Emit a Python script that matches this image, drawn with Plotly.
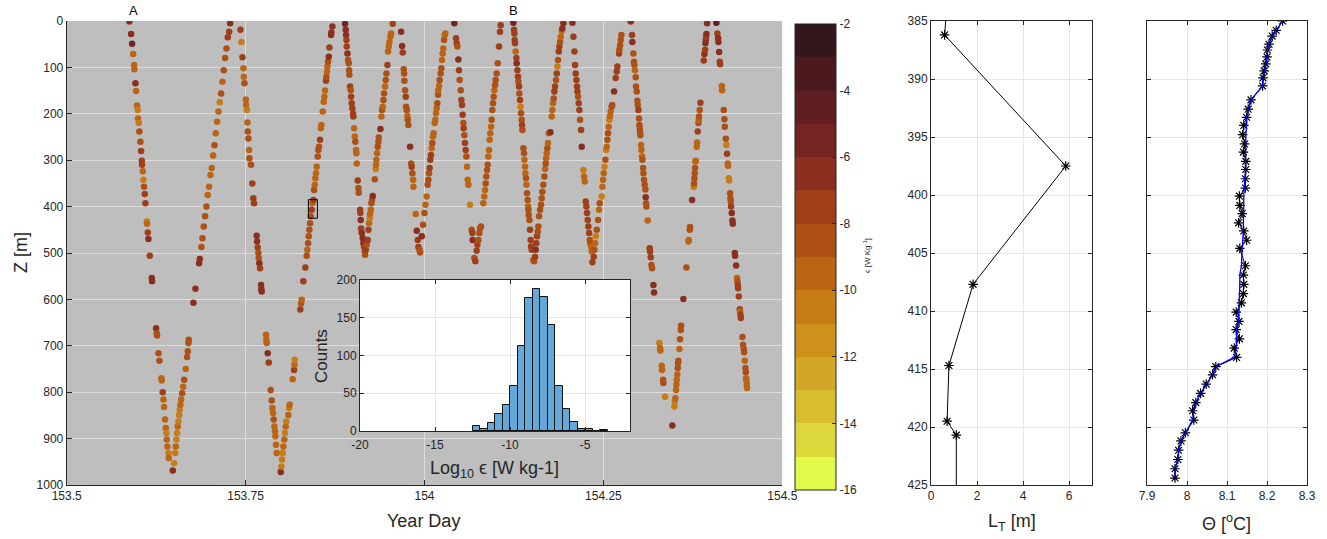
import plotly.graph_objects as go

W, H = 1327, 539

# ---------------- data: main scatter (year day, depth [m], log10 epsilon) ----------------
prof_01 = [(153.5876,1,-6.5),(153.5900,28,-6.5),(153.5914,49,-6),(153.5928,71,-10),(153.5942,95,-9.5),(153.5946,104,-10),(153.5960,134,-7),(153.5969,151,-10),(153.5983,182,-9.5),(153.5993,192,-10.5),(153.5997,210,-10),(153.6007,220,-10.5),(153.6016,238,-9),(153.6030,260,-8.5),(153.6039,280,-8),(153.6049,301,-7.5),(153.6053,310,-8),(153.6063,324,-10),(153.6072,342,-10.5),(153.6081,357,-9),(153.6091,373,-8),(153.6100,393,-8),(153.6119,432,-10.5),(153.6123,437,-10),(153.6133,456,-7.5),(153.6142,470,-7),(153.6161,506,-8),(153.6189,554,-7),(153.6193,561,-7),(153.6249,662,-6.5),(153.6258,673,-8.5),(153.6263,678,-8.5),(153.6282,716,-8.5),(153.6296,732,-9),(153.6324,770,-9.5),(153.6328,775,-9.5),(153.6342,800,-8),(153.6352,816,-9.5),(153.6361,832,-10),(153.6375,859,-9.5),(153.6384,877,-10),(153.6394,888,-10.5),(153.6398,902,-10),(153.6408,917,-10),(153.6422,931,-10.5),(153.6426,942,-10),(153.6482,969,-7)]
prof_02 = [(153.6501,953,-10.5),(153.6515,931,-10.5),(153.6524,917,-10),(153.6533,902,-10.5),(153.6543,888,-10.5),(153.6552,874,-10),(153.6561,863,-11),(153.6571,849,-10.5),(153.6580,838,-11),(153.6589,827,-10),(153.6599,816,-9.5),(153.6613,802,-9),(153.6627,788,-9.5),(153.6641,773,-9),(153.6664,750,-9.5),(153.6682,724,-9),(153.6692,712,-9),(153.6701,694,-8.5),(153.6706,687,-8.5),(153.6771,607,-6.5),(153.6799,577,-7),(153.6850,522,-6.5),(153.6860,513,-6.5),(153.6883,487,-8.5),(153.6897,468,-8.5),(153.6915,443,-9),(153.6934,421,-8.5),(153.6953,400,-8.5),(153.6971,375,-9.5),(153.6990,357,-9.5),(153.7009,332,-10),(153.7027,317,-10),(153.7046,290,-9.5),(153.7065,268,-9),(153.7083,242,-9.5),(153.7102,217,-10),(153.7121,195,-10),(153.7139,175,-10.5),(153.7158,156,-9),(153.7176,131,-9.5),(153.7195,106,-8.5),(153.7214,80,-8.5),(153.7232,59,-8.5),(153.7251,35,-7.5),(153.7270,23,-7.5),(153.7284,5,-7)]
prof_03 = [(153.7428,19,-7.5),(153.7442,45,-10.5),(153.7456,78,-8),(153.7470,102,-9.5),(153.7475,120,-9.5),(153.7484,134,-9),(153.7503,169,-10),(153.7507,181,-9.5),(153.7517,192,-10.5),(153.7526,219,-9.5),(153.7531,238,-9),(153.7540,253,-8.5),(153.7549,278,-9.5),(153.7554,296,-8.5),(153.7576,310,-9),(153.7594,350,-8),(153.7608,382,-8),(153.7618,393,-8),(153.7655,463,-7),(153.7660,475,-7),(153.7669,488,-8),(153.7678,500,-8.5),(153.7683,511,-8.5),(153.7692,522,-6.5),(153.7702,533,-8),(153.7716,569,-6.5),(153.7720,578,-6.5),(153.7725,583,-7),(153.7785,676,-10),(153.7790,687,-9.5),(153.7795,694,-10),(153.7809,716,-7),(153.7823,736,-7.5),(153.7851,795,-8.5),(153.7865,818,-9),(153.7874,834,-9.5),(153.7883,845,-9.5),(153.7893,859,-9),(153.7902,874,-10),(153.7911,884,-9.5),(153.7916,895,-10),(153.7925,913,-9.5),(153.7935,931,-9.5),(153.7991,972,-7)]
prof_04 = [(153.8000,960,-10.5),(153.8009,945,-11),(153.8018,931,-10.5),(153.8028,917,-10),(153.8042,902,-10),(153.8051,888,-10.5),(153.8060,874,-10),(153.8070,863,-10.5),(153.8098,849,-10),(153.8107,834,-10.5),(153.8116,827,-10),(153.8158,772,-9.5),(153.8177,752,-8),(153.8182,741,-10),(153.8186,730,-10.5),(153.8265,622,-8),(153.8275,609,-9),(153.8284,601,-9.5),(153.8307,561,-7.5),(153.8335,531,-8),(153.8354,506,-9),(153.8363,493,-9.5),(153.8373,479,-9),(153.8382,464,-8.5),(153.8391,450,-8.5),(153.8401,436,-9),(153.8410,421,-8.5),(153.8424,407,-7.5),(153.8433,393,-9.5),(153.8447,386,-8),(153.8457,364,-9),(153.8466,353,-9.5),(153.8475,339,-10),(153.8484,328,-9.5),(153.8494,314,-10),(153.8508,292,-9),(153.8517,278,-8.5),(153.8526,271,-9),(153.8540,256,-8),(153.8550,231,-9.5),(153.8559,224,-9.5),(153.8578,195,-9.5),(153.8592,174,-10),(153.8601,163,-10),(153.8610,150,-10),(153.8624,129,-7.5),(153.8629,120,-9),(153.8638,109,-9.5),(153.8643,98,-10),(153.8652,88,-9),(153.8662,77,-6.5),(153.8671,57,-8),(153.8694,30,-6.5),(153.8699,25,-7),(153.8713,12,-7)]
prof_05 = [(153.8890,6,-5.5),(153.8899,19,-7),(153.8904,30,-7),(153.8909,41,-8),(153.8913,55,-7.5),(153.8923,70,-7),(153.8932,84,-8.5),(153.8941,91,-9),(153.8946,106,-8.5),(153.8950,116,-8.5),(153.8960,141,-8),(153.8969,149,-8.5),(153.8974,163,-8),(153.8983,177,-7.5),(153.8992,188,-8),(153.9002,200,-8),(153.9006,206,-7.5),(153.9016,231,-10),(153.9025,249,-10),(153.9034,260,-9),(153.9044,278,-9.5),(153.9048,285,-9.5),(153.9053,307,-9.5),(153.9067,344,-8),(153.9076,360,-9),(153.9081,370,-9),(153.9100,407,-7.5),(153.9104,414,-7.5),(153.9109,429,-7),(153.9114,447,-7.5),(153.9123,457,-6.5),(153.9137,468,-7),(153.9146,479,-7),(153.9156,487,-8),(153.9165,497,-8.5),(153.9170,504,-8.5)]
prof_06 = [(153.9179,493,-8),(153.9193,482,-8.5),(153.9207,472,-7.5),(153.9216,450,-8),(153.9225,436,-9.5),(153.9235,425,-10.5),(153.9239,416,-9.5),(153.9249,407,-9.5),(153.9258,393,-8.5),(153.9267,386,-9),(153.9277,377,-7),(153.9305,341,-8.5),(153.9319,319,-10.5),(153.9323,310,-10),(153.9328,299,-9.5),(153.9337,285,-9.5),(153.9347,271,-9),(153.9356,260,-8.5),(153.9361,251,-8.5),(153.9384,233,-6.5),(153.9398,206,-9.5),(153.9407,192,-9),(153.9416,185,-10),(153.9426,170,-9),(153.9435,156,-8.5),(153.9449,141,-9.5),(153.9458,127,-9),(153.9468,113,-8.5),(153.9482,95,-8),(153.9491,66,-9.5),(153.9500,55,-10),(153.9510,45,-10),(153.9524,34,-9.5),(153.9533,27,-10),(153.9556,6,-8)]
prof_07 = [(153.9673,23,-7),(153.9687,54,-7),(153.9696,68,-8),(153.9710,104,-9),(153.9715,113,-9),(153.9719,129,-8.5),(153.9729,149,-8.5),(153.9738,163,-8),(153.9743,185,-8.5),(153.9752,192,-8.5),(153.9761,205,-9.5),(153.9766,213,-9),(153.9775,224,-9),(153.9799,271,-6.5),(153.9813,307,-8.5),(153.9822,314,-8),(153.9831,328,-8.5),(153.9841,342,-9.5),(153.9845,357,-10),(153.9878,416,-9.5),(153.9892,452,-6.5),(153.9906,472,-8),(153.9915,487,-7.5),(153.9929,493,-8.5),(153.9938,499,-9)]
prof_08 = [(153.9962,464,-7),(153.9980,439,-8.5),(153.9999,414,-9),(154.0013,396,-10),(154.0030,378,-10),(154.0044,353,-9),(154.0054,342,-9),(154.0063,328,-8.5),(154.0072,317,-8),(154.0081,299,-8),(154.0091,289,-8),(154.0100,274,-9.5),(154.0109,263,-9),(154.0119,249,-10),(154.0128,242,-10),(154.0142,220,-9.5),(154.0151,213,-10),(154.0161,199,-9.5),(154.0170,188,-10),(154.0179,177,-9),(154.0189,159,-9),(154.0193,149,-10),(154.0203,140,-10),(154.0212,127,-9),(154.0226,113,-8.5),(154.0235,102,-9),(154.0245,84,-9.5),(154.0254,70,-10),(154.0263,59,-10),(154.0273,41,-9),(154.0282,30,-10),(154.0291,27,-10)]
prof_09 = [(154.0417,5,-6),(154.0440,37,-7.5),(154.0450,48,-8),(154.0459,55,-9),(154.0473,83,-7),(154.0482,106,-8),(154.0492,127,-8.5),(154.0506,149,-8.5),(154.0515,170,-7.5),(154.0524,181,-8),(154.0533,202,-8),(154.0543,220,-8.5),(154.0547,231,-8),(154.0557,246,-8.5),(154.0566,263,-8),(154.0575,278,-8),(154.0585,292,-8.5),(154.0594,314,-9.5),(154.0603,342,-10),(154.0613,353,-10),(154.0636,396,-10.5),(154.0659,450,-9),(154.0669,457,-8),(154.0673,472,-7),(154.0697,511,-8.5),(154.0711,518,-8)]
prof_10 = [(154.0729,495,-7.5),(154.0739,482,-8),(154.0753,472,-9),(154.0767,457,-9),(154.0776,447,-8.5),(154.0790,443,-9),(154.0822,393,-10),(154.0836,378,-9.5),(154.0846,364,-9.5),(154.0855,350,-9),(154.0864,335,-8.5),(154.0874,321,-9),(154.0883,310,-9),(154.0892,292,-9.5),(154.0902,278,-9.5),(154.0911,256,-10),(154.0920,242,-10),(154.0930,228,-9.5),(154.0939,213,-9),(154.0948,192,-9),(154.0958,177,-9),(154.0967,163,-8.5),(154.0976,149,-9.5),(154.0986,138,-9),(154.0995,127,-9),(154.1009,113,-8.5),(154.1023,91,-9),(154.1041,55,-8),(154.1055,23,-7.5),(154.1065,9,-7.5)]
prof_11 = [(154.1242,4,-6),(154.1251,19,-7.5),(154.1256,27,-7.5),(154.1260,41,-7.5),(154.1265,48,-8),(154.1274,66,-9.5),(154.1284,80,-8),(154.1288,91,-7),(154.1298,106,-8),(154.1307,120,-8),(154.1312,131,-9),(154.1321,141,-8),(154.1326,156,-8.5),(154.1335,170,-8),(154.1344,185,-11),(154.1349,199,-8.5),(154.1358,213,-8.5),(154.1363,224,-8),(154.1368,235,-8.5),(154.1382,274,-9),(154.1391,285,-9),(154.1396,299,-9.5),(154.1405,314,-9.5),(154.1410,328,-9.5),(154.1419,339,-9),(154.1424,353,-9.5),(154.1433,371,-9),(154.1442,386,-9),(154.1447,400,-9.5),(154.1452,407,-9),(154.1456,418,-8.5),(154.1466,429,-8.5),(154.1475,450,-8),(154.1484,472,-7.5),(154.1489,486,-7.5),(154.1498,493,-8),(154.1521,515,-9),(154.1531,518,-9)]
prof_12 = [(154.1545,508,-7.5),(154.1554,493,-7),(154.1563,479,-7.5),(154.1573,464,-8),(154.1582,454,-8.5),(154.1591,443,-9),(154.1601,421,-9),(154.1615,407,-8.5),(154.1629,396,-8.5),(154.1638,382,-9),(154.1647,368,-9),(154.1661,353,-8.5),(154.1675,335,-9),(154.1685,319,-9.5),(154.1694,307,-9),(154.1699,296,-9.5),(154.1708,285,-9.5),(154.1717,274,-9),(154.1726,263,-9.5),(154.1736,242,-9.5),(154.1759,240,-6.5),(154.1778,206,-10),(154.1787,192,-10),(154.1796,177,-10),(154.1806,167,-9),(154.1815,152,-8),(154.1824,141,-8),(154.1838,127,-8.5),(154.1848,113,-8),(154.1857,98,-10.5),(154.1866,84,-9),(154.1876,66,-8),(154.1885,55,-8),(154.1894,45,-8.5),(154.1904,34,-10),(154.1918,21,-9.5),(154.1927,16,-7),(154.1941,5,-7)]
prof_13 = [(154.2067,4,-6.5),(154.2081,34,-7.5),(154.2095,66,-7.5),(154.2104,95,-7.5),(154.2113,113,-8),(154.2123,127,-7.5),(154.2132,141,-8),(154.2137,152,-8),(154.2146,163,-8.5),(154.2155,177,-8),(154.2164,192,-8),(154.2174,213,-8.5),(154.2188,235,-8),(154.2197,271,-6.5),(154.2220,321,-10.5),(154.2230,335,-9.5),(154.2239,346,-9.5),(154.2253,389,-8),(154.2262,400,-8),(154.2272,414,-7.5),(154.2281,429,-8),(154.2290,443,-7.5),(154.2300,457,-8),(154.2309,472,-8.5),(154.2318,479,-9),(154.2328,487,-9.5),(154.2337,497,-10),(154.2346,520,-7.5)]
prof_14 = [(154.2365,508,-8),(154.2374,493,-9),(154.2384,479,-10),(154.2393,464,-10.5),(154.2407,450,-9),(154.2425,429,-8.5),(154.2439,407,-9.5),(154.2449,393,-9),(154.2476,378,-10.5),(154.2486,357,-10),(154.2495,342,-9.5),(154.2504,328,-10),(154.2514,314,-10.5),(154.2528,299,-9),(154.2537,278,-10.5),(154.2546,271,-10),(154.2556,256,-9),(154.2565,242,-9),(154.2574,228,-9.5),(154.2583,213,-10.5),(154.2593,205,-10),(154.2602,195,-9.5),(154.2616,184,-9),(154.2625,181,-9),(154.2649,152,-6.5),(154.2672,123,-7.5),(154.2686,109,-7.5),(154.2695,98,-8),(154.2719,70,-8),(154.2723,62,-8.5),(154.2733,52,-9),(154.2742,41,-8.5),(154.2751,30,-9)]
prof_15 = [(154.2882,1,-6.5),(154.2900,30,-7.5),(154.2905,45,-7),(154.2919,70,-9),(154.2928,88,-9),(154.2933,95,-9),(154.2942,106,-9.5),(154.2952,121,-9),(154.2956,141,-9),(154.2966,152,-9),(154.2975,172,-8.5),(154.2980,181,-8.5),(154.2989,192,-8),(154.2998,210,-8.5),(154.3003,224,-8.5),(154.3008,231,-9),(154.3012,238,-9),(154.3017,246,-9),(154.3026,267,-9.5),(154.3031,278,-10),(154.3040,292,-9.5),(154.3045,299,-9),(154.3054,317,-9),(154.3059,328,-8.5),(154.3068,342,-8.5),(154.3077,353,-9),(154.3087,363,-9),(154.3091,380,-7),(154.3096,393,-9),(154.3101,400,-9),(154.3119,430,-9.5),(154.3147,490,-8),(154.3152,497,-8),(154.3161,509,-8),(154.3171,526,-9),(154.3180,533,-9),(154.3199,569,-7),(154.3208,585,-7),(154.3282,694,-10.5),(154.3292,705,-10),(154.3296,710,-10),(154.3315,743,-9.5),(154.3320,752,-9.5),(154.3334,773,-9),(154.3338,780,-9),(154.3362,810,-10.5),(154.3464,872,-6.5)]
prof_16 = [(154.3492,831,-10.5),(154.3497,820,-10.5),(154.3506,813,-10),(154.3515,795,-10),(154.3520,784,-10),(154.3525,773,-9.5),(154.3534,762,-9.5),(154.3539,748,-9),(154.3543,737,-9),(154.3548,732,-9),(154.3562,707,-9.5),(154.3571,686,-9),(154.3581,666,-8.5),(154.3585,657,-8.5),(154.3618,599,-6.5),(154.3660,531,-9),(154.3688,475,-9.5),(154.3693,472,-9.5),(154.3707,450,-9),(154.3711,444,-9),(154.3739,386,-6.5),(154.3762,358,-10.5),(154.3767,350,-9),(154.3772,339,-9),(154.3776,328,-9),(154.3781,317,-9),(154.3786,303,-9.5),(154.3790,301,-9.5),(154.3804,271,-9.5),(154.3809,262,-9.5),(154.3818,238,-8),(154.3828,220,-9),(154.3832,213,-9.5),(154.3837,206,-9),(154.3846,192,-9),(154.3856,176,-8),(154.3902,85,-7.5),(154.3912,71,-7),(154.3921,62,-7.5),(154.3926,48,-7),(154.3931,41,-7),(154.3935,34,-7.5),(154.3940,28,-7),(154.3949,5,-7)]
prof_17 = [(154.4079,4,-5),(154.4093,27,-7.5),(154.4103,37,-7),(154.4107,45,-7),(154.4117,67,-7),(154.4126,88,-8),(154.4131,93,-8),(154.4154,140,-9.5),(154.4159,149,-9.5),(154.4182,192,-8.5),(154.4191,212,-8.5),(154.4196,228,-9),(154.4210,254,-9),(154.4219,267,-10.5),(154.4228,286,-8),(154.4238,307,-9.5),(154.4242,312,-10),(154.4252,339,-10.5),(154.4256,344,-10.5),(154.4270,371,-9),(154.4275,382,-9),(154.4280,389,-8.5),(154.4284,400,-8),(154.4294,414,-7),(154.4303,430,-6.5),(154.4308,437,-6.5),(154.4336,500,-7),(154.4340,506,-7),(154.4354,527,-6.5),(154.4368,554,-9.5),(154.4373,561,-9),(154.4378,569,-8),(154.4382,576,-7.5),(154.4392,594,-7.5),(154.4406,621,-8),(154.4410,626,-9.5),(154.4415,633,-8),(154.4420,640,-8),(154.4443,681,-9),(154.4452,698,-9),(154.4461,707,-8.5),(154.4466,714,-8.5),(154.4476,732,-9.5),(154.4485,748,-9),(154.4490,757,-9),(154.4494,770,-9.5),(154.4499,775,-9.5),(154.4504,784,-9.5),(154.4508,791,-10)]

profiles = [prof_01, prof_02, prof_03, prof_04, prof_05, prof_06, prof_07, prof_08, prof_09,
            prof_10, prof_11, prof_12, prof_13, prof_14, prof_15, prof_16, prof_17]

# profile start labels
profile_labels = ["A", "B"]
profile_label_days = [153.5927, 154.1237]

# highlighted box (day range, depth range)
box_days = [153.8377, 153.8503]
box_depths = [385, 425]

# ---------------- data: inset histogram ----------------
hist_left_edges = [-12.5, -12.0, -11.5, -11.0, -10.5, -10.0, -9.5, -9.0, -8.5, -8.0, -7.5, -7.0,
                   -6.5, -6.0, -5.5, -5.0, -4.5, -4.0]
hist_counts = [6, 3, 10, 23, 34, 59, 113, 176, 188, 178, 141, 60, 29, 12, 2, 3, 0, 1]
hist_bin_width = 0.5

# ---------------- data: Thorpe scale panel ----------------
lt_depth = [385.0, 386.2, 397.5, 407.7, 414.7, 419.5, 420.7, 425.0]
lt_value = [0.64, 0.59, 5.86, 1.83, 0.78, 0.70, 1.10, 1.10]

# ---------------- data: temperature panel ----------------
theta_depth = [385.0, 385.8, 386.3, 387.0, 387.5, 388.1, 388.7, 389.3, 389.9, 390.6, 391.8, 392.6,
               393.3, 394.0, 394.8, 395.6, 396.3, 397.1, 397.8, 398.6, 399.4, 400.1, 400.9, 401.6,
               402.4, 403.1, 403.9, 404.6, 406.1, 406.9, 407.7, 408.5, 409.3, 410.1, 410.9, 411.6,
               412.4, 413.2, 414.0, 414.8, 415.5, 416.3, 417.1, 417.9, 418.6, 419.4, 420.5, 421.2,
               422.0, 422.8, 423.6, 424.4]
theta_value = [8.239, 8.223, 8.213, 8.205, 8.201, 8.200, 8.197, 8.193, 8.190, 8.189, 8.160, 8.153,
               8.149, 8.142, 8.139, 8.144, 8.141, 8.147, 8.147, 8.146, 8.146, 8.131, 8.132, 8.138,
               8.129, 8.142, 8.149, 8.132, 8.146, 8.141, 8.142, 8.141, 8.136, 8.123, 8.130, 8.123,
               8.131, 8.118, 8.124, 8.072, 8.064, 8.048, 8.034, 8.022, 8.014, 8.017, 7.996, 7.985,
               7.979, 7.977, 7.970, 7.970]
theta_sorted = sorted(theta_value, reverse=True)

# ---------------- colour map (14 discrete levels, -16 .. -2) ----------------
cb_min, cb_max = -16, -2
band_colors = ["#E1FA4A", "#DCD83C", "#D8BE2F", "#D3A625", "#CD911C", "#C67C17", "#BB6514",
               "#AD5016", "#9E3F19", "#8A2F1F", "#732423", "#611E21", "#4C1A1E", "#35161A"]
cb_ticks = [-16, -14, -12, -10, -8, -6, -4, -2]

# ---------------- helpers ----------------
def fx(px):
    return px / W

def fy(py):
    return 1 - py / H

nb = len(band_colors)
colorscale = []
for i, c in enumerate(band_colors):
    colorscale.append([i / nb, c])
    colorscale.append([(i + 1) / nb, c])

FONT = "Liberation Sans, Arial, Helvetica, sans-serif"
AX = "#262626"
GRID_MAIN = "#DCDCDC"
GRID = "#E6E6E6"

days = [p[0] for pr in profiles for p in pr]
depths = [p[1] for pr in profiles for p in pr]
eps = [p[2] for pr in profiles for p in pr]

fig = go.Figure()

# main scatter
fig.add_trace(go.Scatter(
    x=days, y=depths, mode="markers", xaxis="x", yaxis="y", showlegend=False,
    marker=dict(size=6.5, color=eps, colorscale=colorscale, cmin=cb_min, cmax=cb_max,
                opacity=1.0, line=dict(width=0),
                colorbar=dict(x=fx(795), xanchor="left", y=fy(257), yanchor="middle",
                              thickness=41, thicknessmode="pixels", len=466, lenmode="pixels",
                              outlinecolor=AX, outlinewidth=1, tickvals=cb_ticks,
                              ticktext=[str(t) for t in cb_ticks], ticks="inside", ticklen=4,
                              tickcolor=AX, tickfont=dict(family=FONT, size=12, color=AX),
                              xpad=0, ypad=0)),
))

# inset histogram
fig.add_trace(go.Bar(
    x=[e + hist_bin_width / 2 for e in hist_left_edges], y=hist_counts, width=hist_bin_width,
    xaxis="x2", yaxis="y2", showlegend=False,
    marker=dict(color="#62A8D8", line=dict(color="#111111", width=1)),
))

# L_T panel
fig.add_trace(go.Scatter(x=lt_value, y=lt_depth, mode="lines", xaxis="x3", yaxis="y3",
                         line=dict(color="black", width=1), showlegend=False))
fig.add_trace(go.Scatter(x=lt_value[1:-1], y=lt_depth[1:-1], mode="markers", xaxis="x3", yaxis="y3",
                         marker=dict(symbol="asterisk-open", size=8, color="black",
                                     line=dict(color="black", width=1.2)),
                         showlegend=False))

# Theta panel
fig.add_trace(go.Scatter(x=theta_value, y=theta_depth, mode="lines+markers", xaxis="x4", yaxis="y4",
                         line=dict(color="black", width=1),
                         marker=dict(symbol="asterisk-open", size=8, color="black",
                                     line=dict(color="black", width=1.2)),
                         showlegend=False))
fig.add_trace(go.Scatter(x=theta_sorted, y=theta_depth, mode="lines", xaxis="x4", yaxis="y4",
                         line=dict(color="#0000FF", width=1.3), showlegend=False))

main_x_dom = [fx(66.7), fx(782.3)]
main_y_dom = [fy(485), fy(21)]

tickfont = dict(family=FONT, size=12, color=AX)

common = dict(ticks="inside", tickcolor=AX, showline=True, linecolor=AX, linewidth=1,
              showgrid=True, zeroline=False, tickfont=tickfont, automargin=False)

fig.update_layout(
    template="none",
    width=W, height=H, margin=dict(l=0, r=0, t=0, b=0, pad=0), autosize=False,
    paper_bgcolor="white", plot_bgcolor="white",
    font=dict(family=FONT, color=AX),
    bargap=0,
    xaxis=dict(domain=main_x_dom, range=[153.5, 154.5], tickvals=[153.5, 153.75, 154, 154.25, 154.5],
               ticktext=["153.5", "153.75", "154", "154.25", "154.5"], ticklen=5,
               gridcolor=GRID_MAIN, gridwidth=1, anchor="y", **common),
    yaxis=dict(domain=main_y_dom, range=[1000, 0], tickvals=list(range(0, 1001, 100)),
               ticklen=5, gridcolor=GRID_MAIN, gridwidth=1, anchor="x", **common),
    xaxis2=dict(domain=[fx(360), fx(630)], range=[-20, -2], tickvals=[-20, -15, -10, -5],
                ticktext=["-20", "-15", "-10", "-5"], ticklen=4, mirror="ticks",
                ticklabelstandoff=3, gridcolor=GRID, anchor="y2", **common),
    yaxis2=dict(domain=[fy(431), fy(280)], range=[0, 200], tickvals=[0, 50, 100, 150, 200],
                ticklen=4, mirror="ticks", gridcolor=GRID, anchor="x2", **common),
    xaxis3=dict(domain=[fx(931), fx(1092)], range=[0, 7], tickvals=[0, 2, 4, 6],
                ticklen=4, mirror="ticks", gridcolor=GRID, anchor="y3", **common),
    yaxis3=dict(domain=main_y_dom, range=[425, 385], tickvals=list(range(385, 426, 5)),
                ticklen=4, mirror="ticks", gridcolor=GRID, anchor="x3", **common),
    xaxis4=dict(domain=[fx(1147), fx(1307)], range=[7.9, 8.3], tickvals=[7.9, 8.0, 8.1, 8.2, 8.3],
                ticktext=["7.9", "8", "8.1", "8.2", "8.3"], ticklen=4, mirror="ticks",
                gridcolor=GRID, anchor="y4", **common),
    yaxis4=dict(domain=main_y_dom, range=[425, 385], tickvals=list(range(385, 426, 5)),
                showticklabels=False, ticklen=4, mirror="ticks", gridcolor=GRID, anchor="x4",
                **common),
)

shapes = [
    # grey background of the main panel
    dict(type="rect", xref="x", yref="y", x0=153.5, x1=154.5, y0=0, y1=1000, layer="below",
         fillcolor="#BEBEBE", line=dict(width=0)),
    # highlighted box
    dict(type="rect", xref="x", yref="y", x0=box_days[0], x1=box_days[1], y0=box_depths[0],
         y1=box_depths[1], layer="above", fillcolor="rgba(0,0,0,0)", line=dict(color="black", width=1)),
]
fig.update_layout(shapes=shapes)

def label(text, px, py, size, angle=0):
    return dict(text=text, x=fx(px), y=fy(py), xref="paper", yref="paper", showarrow=False,
                xanchor="center", yanchor="middle", textangle=angle,
                font=dict(family=FONT, size=size, color=AX))

ann = []
for lab, d in zip(profile_labels, profile_label_days):
    ann.append(dict(text=lab, x=d, y=0, xref="x", yref="y", xanchor="center", yanchor="bottom",
                    yshift=1, showarrow=False, font=dict(family=FONT, size=13, color="black")))
ann += [
    label("Year Day", 424, 521, 18),
    label("Z [m]", 21, 253, 18, -90),
    label("Counts", 321, 356, 17, -90),
    label("Log<sub>10</sub> \u03f5 [W kg-1]", 494, 469, 18),
    label("\u03f5 [W Kg<sup>-1</sup>]", 867, 256, 8, -90),
    label("L<sub>T</sub> [m]", 1012, 522, 18),
    label("\u0398 [<sup>o</sup>C]", 1226, 522, 18),
]
fig.update_layout(annotations=ann)

fig.write_html("out.html", config={"displayModeBar": False},
               post_script="document.body.style.margin='0';document.body.style.overflow='hidden';")
